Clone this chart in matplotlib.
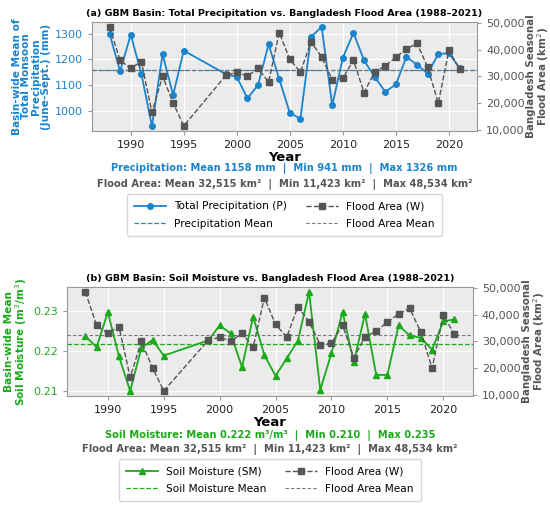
import numpy as np
import matplotlib
matplotlib.use("Agg")
import matplotlib.pyplot as plt
from matplotlib.ticker import FuncFormatter

years = [1988, 1989, 1990, 1991, 1992, 1993, 1994, 1995,
         1999, 2000, 2001, 2002, 2003, 2004, 2005, 2006, 2007, 2008,
         2009, 2010, 2011, 2012, 2013, 2014, 2015, 2016, 2017, 2018, 2019, 2020, 2021]

precip = [1300, 1154, 1296, 1145, 941, 1220, 1062, 1234,
          1142, 1132, 1049, 1100, 1259, 1124, 992, 970, 1288, 1326,
          1021, 1207, 1303, 1196, 1132, 1074, 1103, 1210, 1179, 1145, 1221, 1224, 1167]

soil = [0.2236, 0.2209, 0.2296, 0.2186, 0.2100, 0.2207, 0.2227, 0.2188,
        0.2226, 0.2263, 0.2243, 0.2159, 0.2285, 0.2189, 0.2138, 0.2181, 0.2225, 0.2346,
        0.2103, 0.2194, 0.2296, 0.2171, 0.2292, 0.2140, 0.2140, 0.2263, 0.2238, 0.2232,
        0.2203, 0.2273, 0.2278]

flood = [48534, 36000, 33000, 35560, 16520, 30000, 20100, 11423,
         30500, 31500, 30060, 33000, 27900, 46420, 36400, 31600, 43000, 37300,
         28790, 29300, 36070, 23930, 31600, 33900, 37200, 40300, 42400, 33390,
         19970, 39780, 32750]

BLUE = '#1a84cc'
GREEN = '#1aaa1a'
GRAY = '#555555'
BG = '#ebebeb'

fig = plt.figure(figsize=(5.5, 5.11), dpi=100)


def style_ax(ax):
    ax.set_facecolor(BG)
    ax.grid(True, color='white', linewidth=0.8)
    ax.set_axisbelow(True)
    for s in ax.spines.values():
        s.set_color('#999999')
        s.set_linewidth(0.8)
    ax.tick_params(colors='#999999', labelsize=8, length=3, width=0.8)


def panel(rect, vals, color, marker, lab, mean_lab, title, ylabel, ytick_fmt):
    ax = fig.add_axes(rect)
    style_ax(ax)
    l1, = ax.plot(years, vals, color=color, marker=marker, markersize=4,
                  linewidth=1.3, label=lab, zorder=3)
    m1 = ax.axhline(np.mean(vals), color=color, linestyle='--', linewidth=0.9,
                    label=mean_lab, zorder=2)
    ax.set_ylabel(ylabel, color=color, fontsize=7.6, fontweight='bold', labelpad=3,
                  linespacing=0.95)
    ax.tick_params(axis='y', labelcolor=color)
    ax.tick_params(axis='x', labelcolor='#222222')
    ax.yaxis.set_major_formatter(FuncFormatter(ytick_fmt))
    ax.set_xlabel('Year', fontsize=9.5, fontweight='bold', labelpad=1)
    ax.set_title(title, fontsize=6.8, fontweight='bold', pad=4)

    ax2 = ax.twinx()
    l2, = ax2.plot(years, flood, color=GRAY, marker='s', markersize=4,
                   linestyle='--', linewidth=1.0, label='Flood Area (W)', zorder=3)
    m2 = ax2.axhline(np.mean(flood), color='#777777', linestyle=(0, (3, 2)),
                     linewidth=0.8, label='Flood Area Mean', zorder=2)
    ax2.set_ylim(9500, 50400)
    ax2.set_yticks([10000, 20000, 30000, 40000, 50000])
    ax2.yaxis.set_major_formatter(FuncFormatter(lambda v, p: f'{int(v):,}'))
    ax2.tick_params(colors='#999999', labelsize=8, labelcolor=GRAY, length=3, width=0.8)
    for s in ax2.spines.values():
        s.set_visible(False)
    ax2.set_ylabel('Bangladesh Seasonal\nFlood Area (km$^2$)', color=GRAY,
                   fontsize=7.4, fontweight='bold', labelpad=1, linespacing=0.95)
    ax.set_xticks([1990, 1995, 2000, 2005, 2010, 2015, 2020])
    return ax, [l1, m1, l2, m2]


def legend(handles, cx, cy):
    fig.legend(handles, [h.get_label() for h in handles], loc='center', ncol=2,
               bbox_to_anchor=(cx, cy), fontsize=7.6, frameon=True,
               edgecolor='#cccccc', fancybox=True, columnspacing=1.8,
               handlelength=3.0, labelspacing=0.7, borderpad=0.7)


# (a) precipitation
ax_a, h_a = panel([0.1673, 0.7436, 0.700, 0.2133], precip, BLUE, 'o',
                  'Total Precipitation (P)', 'Precipitation Mean',
                  '(a) GBM Basin: Total Precipitation vs. Bangladesh Flood Area (1988–2021)',
                  'Basin-wide Mean of\nTotal Monsoon\nPrecipitation\n(June-Sept.) (mm)',
                  lambda v, p: f'{int(v)}')
ax_a.set_yticks([1000, 1100, 1200, 1300])
cx_a = 0.1673 + 0.35
fig.text(cx_a, 1 - 169 / 511, 'Precipitation: Mean 1158 mm  |  Min 941 mm  |  Max 1326 mm',
         ha='center', va='center', color=BLUE, fontsize=7.1, fontweight='bold')
fig.text(cx_a, 1 - 184 / 511, 'Flood Area: Mean 32,515 km²  |  Min 11,423 km²  |  Max 48,534 km²',
         ha='center', va='center', color=GRAY, fontsize=7.1, fontweight='bold')
legend(h_a, cx_a, 1 - 215 / 511)

# (b) soil moisture
ax_b, h_b = panel([0.1218, 0.2250, 0.738, 0.2133], soil, GREEN, '^',
                  'Soil Moisture (SM)', 'Soil Moisture Mean',
                  '(b) GBM Basin: Soil Moisture vs. Bangladesh Flood Area (1988–2021)',
                  'Basin-wide Mean\nSoil Moisture (m$^3$/m$^3$)',
                  lambda v, p: f'{v:.2f}')
ax_b.set_yticks([0.21, 0.22, 0.23])
cx_b = 0.1218 + 0.369
fig.text(cx_b, 1 - 435 / 511, 'Soil Moisture: Mean 0.222 m³/m³  |  Min 0.210  |  Max 0.235',
         ha='center', va='center', color=GREEN, fontsize=7.1, fontweight='bold')
fig.text(cx_b, 1 - 449 / 511, 'Flood Area: Mean 32,515 km²  |  Min 11,423 km²  |  Max 48,534 km²',
         ha='center', va='center', color=GRAY, fontsize=7.1, fontweight='bold')
legend(h_b, cx_b, 1 - 480 / 511)

fig.savefig('out.png', dpi=100)
